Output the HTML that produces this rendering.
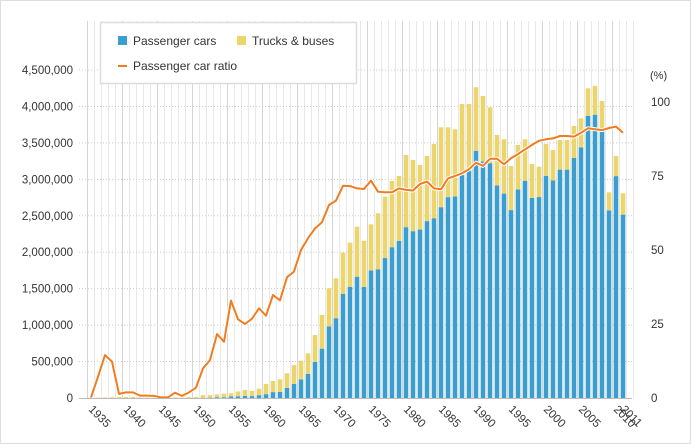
<!DOCTYPE html>
<html><head><meta charset="utf-8"><style>
html,body{margin:0;padding:0;background:#fff;}
svg{display:block;font-family:"Liberation Sans",Arial,sans-serif;}
</style></head><body>
<svg id="chart" width="691" height="444">
<rect x="0.5" y="0.5" width="690" height="443" fill="#fff" stroke="#ddd"/>
<g id="grid"></g><g id="bars"></g><g id="line"></g><g id="axes"></g>
<g>
<rect x="100.5" y="22.5" width="256" height="61" fill="#fff" stroke="#ddd" stroke-width="1.5"/>
<rect x="118" y="36" width="9" height="9" fill="#3a9fd0"/>
<text x="133" y="45" font-size="12" fill="#333">Passenger cars</text>
<rect x="237" y="36" width="9" height="9" fill="#ecd569"/>
<text x="252" y="45" font-size="12" fill="#333">Trucks &amp; buses</text>
<line x1="118" y1="66" x2="127" y2="66" stroke="#f07c20" stroke-width="2"/>
<text x="133" y="70" font-size="12" fill="#333">Passenger car ratio</text>
</g>
<text x="650" y="79" font-size="11" fill="#333">(%)</text>
</svg>
<script>
const years=[];for(let y=1935;y<=2011;y++)years.push(y);
const totals=[4,6,8,10,12,14,14,12,10,8,4,8,8,10,12,14,38,39,50,60,65,90,110,96,128,192,233,256,339,453,512,613,864,1139,1505,1642,1994,2131,2350,2158,2383,2534,2762,2977,3046,3334,3265,3197,3320,3485,3714,3714,3686,4034,4034,4263,4143,3988,3608,3549,3183,3471,3549,3210,3173,3485,3403,3540,3540,3732,3837,4249,4281,4075,2822,3320,2808];
const ratio=[0.2,7.2,14.5,12.3,1.4,1.9,1.9,0.8,0.8,0.7,0.2,0.2,1.8,0.7,1.9,3.5,10,12.8,21.6,19,32.9,26.6,25,26.8,30.3,27.8,34.8,33,40.8,42.7,50,54,57.3,59.4,65.2,66.7,71.7,71.6,70.8,70.6,73.4,69.7,69.5,69.5,70.8,70.3,70.1,72.3,73.1,70.8,70.5,74.2,75,75.9,77.3,79.5,78.4,80.8,80.8,79,81,82.4,84,85.5,86.9,87.4,87.7,88.5,88.5,88.3,89.6,91.1,90.8,90.5,91.2,91.7,89.6];
const passenger=totals.map((t,i)=>Math.round(t*ratio[i]/100));
const trucks=totals.map((t,i)=>t-passenger[i]);
const leftTicks=[0,500,1000,1500,2000,2500,3000,3500,4000,4500];
const leftTickLabels=["0","500,000","1,000,000","1,500,000","2,000,000","2,500,000","3,000,000","3,500,000","4,000,000","4,500,000"];
const rightTicks=[0,25,50,75,100];
const xLabelYears=[1935,1940,1945,1950,1955,1960,1965,1970,1975,1980,1985,1990,1995,2000,2005,2010,2011];

const NS="http://www.w3.org/2000/svg";
const x0=91,step=7,base=398;
const xs=y=>x0+(y-1935)*step;
const yl=v=>base-v/4500*328;
const yr=p=>base-p/100*296;
function mk(tag,attrs,parent){const e=document.createElementNS(NS,tag);for(const k in attrs)e.setAttribute(k,attrs[k]);parent.appendChild(e);return e;}
const grid=document.getElementById('grid'),bars=document.getElementById('bars'),line=document.getElementById('line'),axes=document.getElementById('axes');
for(let y=1935;y<=2013;y++){const gx=xs(y)-3.5;const l=mk('line',{x1:gx,y1:21,x2:gx,y2:base,stroke:(y%5===0)?'#d4d4d4':'#e8e8e8','stroke-width':1},grid);

}
leftTicks.forEach((v,i)=>{const y=yl(v);
if(i>0){const g=mk('line',{x1:79,y1:y,x2:632,y2:y,stroke:'#ccc','stroke-dasharray':'1,2'},grid);

}
const t=mk('text',{x:73,y:y+4,'font-size':11.5,fill:'#333','text-anchor':'end'},axes);t.textContent=leftTickLabels[i];

});
rightTicks.forEach(p=>{const t=mk('text',{x:651,y:yr(p)+4,'font-size':11.5,fill:'#333'},axes);t.textContent=p;

});
const bl=mk('line',{x1:79,y1:base+0.5,x2:632,y2:base+0.5,stroke:'#bbb'},axes);


years.forEach((y,i)=>{const cx=xs(y);
const pb=mk('rect',{x:cx-2.3,y:yl(passenger[i]),width:4.6,height:base-yl(passenger[i]),fill:'#3a9fd0'},bars);


const tb=mk('rect',{x:cx-2.3,y:yl(totals[i]),width:4.6,height:yl(passenger[i])-yl(totals[i]),fill:'#ecd569'},bars);

});
const pts=years.map((y,i)=>xs(y)+','+yr(ratio[i]).toFixed(1)).join(' ');
const halo=mk('polyline',{points:pts,fill:'none',stroke:'#fff','stroke-width':4,'stroke-linejoin':'round'},line);


const pl=mk('polyline',{points:pts,fill:'none',stroke:'#f07c20','stroke-width':2,'stroke-linejoin':'round'},line);


xLabelYears.forEach(y=>{const cx=xs(y)-3;const t=mk('text',{x:cx,y:410,'font-size':11.5,fill:'#333',transform:`rotate(45 ${cx} 410)`},axes);t.textContent=y;

});
</script>
</body></html>
